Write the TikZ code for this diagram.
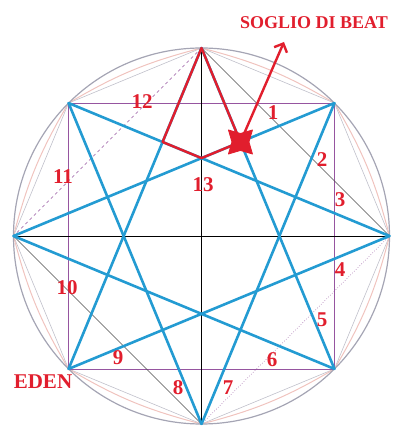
\documentclass[tikz,border=0pt]{standalone}
\usepackage{fontspec}
\setmainfont{Liberation Serif}
\definecolor{stblue}{RGB}{35,155,210}
\definecolor{stred}{RGB}{225,30,45}
\definecolor{stpurple}{RGB}{150,85,160}
\definecolor{stgray}{RGB}{165,165,180}
\definecolor{stpink}{RGB}{240,195,190}
\usetikzlibrary{arrows.meta,calc,shapes.geometric}

\begin{document}
\begin{tikzpicture}[x=1pt,y=1pt,
  numlab/.style={text=stred,font=\fontsize{21}{24}\selectfont\bfseries,inner sep=0pt},
  starline/.style={stblue,line width=2.6pt,line cap=round},
  redline/.style={stred,line width=2.4pt,line join=round,line cap=round},
  thinline/.style={line width=0.6pt}]
\useasboundingbox (0,0) rectangle (392,428);
\coordinate (c) at (201.5,192);
\foreach \i in {0,...,7}
  \coordinate (v\i) at ($(c)+({90-45*\i}:188)$);
% outer ring
\foreach \i in {0,...,7}{
  \pgfmathtruncatemacro\j{mod(\i+1,8)}
  \draw[stgray!70,thinline] (v\i) -- (v\j);
  \draw[stpink,line width=1pt] (v\i) to[bend left=8] (v\j);
}
\draw[stgray,line width=1.2pt] (c) circle (188pt);
% square and diamond
\draw[stpurple,thinline] (v7) -- (v1) -- (v3) -- (v5) -- cycle;
\draw[black!70,thinline] (v0) -- (v2);
\draw[stpurple,thinline,dashed] (v0) -- (v6);
\draw[black!70,thinline] (v6) -- (v4);
\draw[stpurple,thinline,dotted] (v4) -- (v2);
% axes
\draw[black,line width=0.9pt] (v6) -- (v2);
\draw[black,line width=0.9pt] (v0) -- (v4);
% star {8/3}
\foreach \i in {0,...,7}{
  \pgfmathtruncatemacro\j{mod(\i+3,8)}
  \draw[starline] (v\i) -- (v\j);
}
% upper point in red
\coordinate (A) at (intersection of v0--v5 and v7--v2);
\coordinate (B) at (intersection of v0--v3 and v6--v1);
\coordinate (C) at (intersection of v7--v2 and v6--v1);
\coordinate (tip) at (284,386);
\draw[redline] (v0) -- (A) -- (C) -- (B) -- cycle;
\draw[redline,-{Straight Barb[length=7pt,width=14pt]}] (B) -- (tip);
\node[star,star points=4,star point ratio=0.5,fill=stred,draw=stred,line width=0.8pt,line join=round,minimum size=17pt,inner sep=0pt] (mark) at (B) {};
% labels
\node[numlab] (n1) at (273,315) {1};
\node[numlab] (n2) at (322,268) {2};
\node[numlab] (n3) at (340,228) {3};
\node[numlab] (n4) at (340,158) {4};
\node[numlab] (n5) at (322,108) {5};
\node[numlab] (n6) at (272,68) {6};
\node[numlab] (n7) at (228,40) {7};
\node[numlab] (n8) at (178,40) {8};
\node[numlab] (n9) at (118,70) {9};
\node[numlab] (n10) at (67,140) {10};
\node[numlab] (n11) at (63,251) {11};
\node[numlab] (n12) at (142,326) {12};
\node[numlab] (n13) at (203,243) {13};
\node[numlab] (eden) at (43,46) {EDEN};
\node[numlab,font=\fontsize{18}{22}\selectfont\bfseries,anchor=west] (soglio) at (240,405) {SOGLIO DI BEAT};
\end{tikzpicture}
\end{document}
